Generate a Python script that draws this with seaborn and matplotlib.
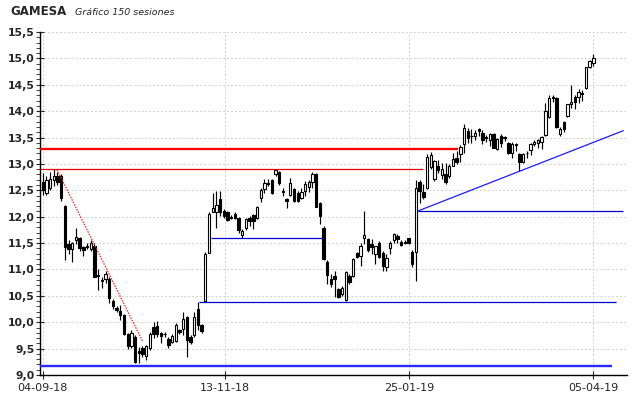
import numpy as np
import pandas as pd
import matplotlib
matplotlib.use('Agg')
import matplotlib.pyplot as plt
from matplotlib.ticker import MultipleLocator, FuncFormatter
import seaborn as sns

# 150 sessions
opens = [12.65, 12.45, 12.55, 12.70, 12.78, 12.78, 12.20, 11.48, 11.38, 11.55,
         11.60, 11.42, 11.45, 11.38, 11.45, 10.90, 10.80, 10.82, 10.82, 10.41,
         10.27, 10.22, 10.13, 9.78, 9.55, 9.72, 9.45, 9.52, 9.36, 9.51,
         9.91, 9.92, 9.80, 9.78, 9.69, 9.63, 9.64, 9.85, 9.88, 10.10,
         9.72, 9.75, 10.26, 9.94, 10.40, 11.32, 12.09, 12.08, 12.34, 12.11,
         12.08, 11.98, 12.05, 11.98, 11.65, 11.78, 11.98, 12.03, 11.98, 12.36,
         12.52, 12.64, 12.70, 12.80, 12.85, 12.49, 12.34, 12.42, 12.53, 12.45,
         12.36, 12.49, 12.57, 12.65, 12.80, 12.25, 11.79, 11.15, 10.82, 10.87,
         10.63, 10.54, 10.43, 10.88, 10.88, 11.31, 11.26, 11.59, 11.57, 11.48,
         11.29, 11.51, 11.31, 11.04, 11.40, 11.55, 11.64, 11.52, 11.52, 11.59,
         11.34, 11.34, 12.65, 12.47, 12.54, 12.95, 12.72, 12.96, 12.79, 12.81,
         12.77, 12.97, 13.12, 13.18, 13.37, 13.62, 13.53, 13.53, 13.66, 13.59,
         13.50, 13.46, 13.57, 13.28, 13.53, 13.50, 13.40, 13.21, 13.37, 13.18,
         13.04, 13.20, 13.26, 13.37, 13.40, 13.41, 13.55, 13.89, 14.24, 14.25,
         13.56, 13.79, 13.91, 14.13, 14.27, 14.27, 14.34, 14.44, 14.84, 14.92]
highs = [12.82, 12.78, 12.85, 12.90, 12.85, 12.80, 12.22, 11.55, 11.52, 11.78,
         11.62, 11.45, 11.50, 11.55, 11.50, 11.00, 10.85, 10.98, 10.85, 10.44,
         10.30, 10.32, 10.16, 9.80, 9.85, 9.75, 9.53, 9.55, 9.57, 9.82,
         10.00, 10.02, 9.82, 9.82, 9.72, 9.78, 9.98, 9.88, 10.19, 10.12,
         9.76, 10.19, 10.38, 9.96, 11.34, 12.08, 12.45, 12.48, 12.48, 12.15,
         12.10, 12.03, 12.08, 12.00, 11.76, 11.98, 12.01, 12.05, 12.21, 12.55,
         12.72, 12.72, 12.72, 12.91, 12.87, 12.55, 12.36, 12.74, 12.55, 12.49,
         12.55, 12.67, 12.70, 12.84, 12.83, 12.28, 11.82, 11.17, 10.91, 10.98,
         10.65, 10.68, 10.98, 10.92, 11.22, 11.34, 11.51, 12.11, 11.60, 11.57,
         11.45, 11.53, 11.35, 11.29, 11.54, 11.70, 11.67, 11.55, 11.55, 11.60,
         11.36, 12.69, 12.70, 12.62, 13.19, 13.22, 13.08, 13.07, 13.02, 13.02,
         12.99, 13.21, 13.24, 13.35, 13.75, 13.68, 13.66, 13.65, 13.68, 13.65,
         13.55, 13.59, 13.59, 13.50, 13.56, 13.53, 13.42, 13.41, 13.40, 13.21,
         13.20, 13.25, 13.40, 13.46, 13.48, 13.53, 14.15, 14.30, 14.30, 14.27,
         13.70, 13.82, 14.14, 14.50, 14.30, 14.42, 14.40, 14.84, 14.96, 15.09]
lows = [12.42, 12.42, 12.50, 12.58, 12.60, 12.30, 11.17, 11.30, 11.15, 11.48,
        11.35, 11.26, 11.38, 11.35, 10.85, 10.62, 10.65, 10.75, 10.37, 10.25,
        10.20, 10.04, 9.75, 9.50, 9.52, 9.22, 9.22, 9.35, 9.28, 9.48,
        9.70, 9.72, 9.60, 9.72, 9.52, 9.60, 9.62, 9.78, 9.75, 9.34,
        9.58, 9.72, 9.85, 9.80, 10.39, 11.31, 12.08, 11.79, 12.01, 11.98,
        11.92, 11.95, 11.95, 11.70, 11.60, 11.74, 11.83, 11.76, 11.96, 12.28,
        12.45, 12.58, 12.43, 12.77, 12.61, 12.40, 12.17, 12.39, 12.28, 12.28,
        12.33, 12.39, 12.47, 12.55, 12.18, 11.86, 11.18, 10.73, 10.66, 10.47,
        10.45, 10.50, 10.41, 10.72, 10.86, 11.21, 11.07, 11.48, 11.34, 11.29,
        11.10, 11.22, 10.98, 10.98, 11.29, 11.50, 11.51, 11.44, 11.49, 11.49,
        11.05, 10.79, 12.26, 12.33, 12.52, 12.90, 12.68, 12.83, 12.71, 12.62,
        12.74, 12.96, 12.99, 13.03, 13.21, 13.40, 13.40, 13.46, 13.53, 13.37,
        13.42, 13.34, 13.30, 13.26, 13.33, 13.44, 13.18, 13.12, 13.24, 12.87,
        13.02, 13.12, 13.16, 13.34, 13.30, 13.29, 13.53, 13.87, 14.18, 13.68,
        13.52, 13.60, 13.88, 14.06, 14.05, 14.15, 14.20, 14.42, 14.82, 14.85]
closes = [12.50, 12.70, 12.72, 12.78, 12.65, 12.35, 11.42, 11.38, 11.50, 11.62,
          11.40, 11.36, 11.42, 11.50, 10.86, 10.88, 10.78, 10.92, 10.45, 10.31,
          10.24, 10.13, 9.77, 9.55, 9.80, 9.25, 9.42, 9.40, 9.55, 9.77,
          9.78, 9.78, 9.74, 9.77, 9.56, 9.73, 9.94, 9.82, 10.07, 9.66,
          9.63, 10.10, 9.94, 9.83, 11.30, 12.05, 12.17, 12.23, 12.08, 12.01,
          11.94, 11.98, 11.98, 11.75, 11.73, 11.95, 11.92, 11.92, 12.19, 12.50,
          12.64, 12.62, 12.45, 12.89, 12.64, 12.47, 12.30, 12.64, 12.30, 12.30,
          12.47, 12.62, 12.65, 12.81, 12.19, 12.01, 11.20, 10.90, 10.73, 10.82,
          10.47, 10.65, 10.96, 10.76, 11.20, 11.23, 11.44, 11.66, 11.37, 11.42,
          11.44, 11.24, 11.07, 11.21, 11.51, 11.68, 11.57, 11.46, 11.51, 11.51,
          11.10, 12.55, 12.48, 12.37, 13.13, 13.17, 13.05, 12.89, 12.90, 12.65,
          12.96, 13.10, 13.03, 13.33, 13.68, 13.50, 13.52, 13.59, 13.62, 13.46,
          13.49, 13.57, 13.31, 13.48, 13.39, 13.49, 13.21, 13.38, 13.36, 13.04,
          13.18, 13.21, 13.37, 13.41, 13.46, 13.51, 14.00, 14.25, 14.26, 13.70,
          13.67, 13.67, 14.13, 14.18, 14.18, 14.37, 14.33, 14.84, 14.95, 15.01]

tick_pos = [0, 49.3, 99.1, 149]
tick_labels = ['04-09-18', '13-11-18', '25-01-19', '05-04-19']

# drawn support / resistance levels (price, first session, last session)
thick_prices = [13.29, 9.18]
thick_starts = [-0.7, -0.7]
thick_ends = [112.5, 154.0]
thick_colors = ['#ff0000', '#2a2aff']

thin_prices = [12.90, 10.39, 11.59, 12.11]
thin_starts = [-0.7, 42.2, 45.6, 101.6]
thin_ends = [103.0, 155.1, 75.6, 157.1]
thin_colors = ['#e00000', '#0000cc', '#0000cc', '#0000cc']

trend_x = [101.6, 157.1]
trend_y = [12.11, 13.63]
fall_x = [3.9, 27.1]
fall_y = [12.89, 9.63]


def main():
    sns.set_style('white')
    plt.rcParams['font.family'] = ['DejaVu Sans']

    df = pd.DataFrame({'open': opens, 'high': highs, 'low': lows, 'close': closes})
    df['idx'] = np.arange(len(df))
    df['up'] = df['close'] >= df['open']
    df['bottom'] = df[['open', 'close']].min(axis=1)
    df['height'] = (df['close'] - df['open']).abs().clip(lower=0.012)

    fig = plt.figure(figsize=(6.4, 3.98), dpi=100)
    ax = fig.add_axes([40 / 640, 23 / 398, 587 / 640, 343 / 398])

    # wicks and bodies
    ax.vlines(df['idx'], df['low'], df['high'], color='black', linewidth=0.85, zorder=2)
    ax.bar(df['idx'], df['height'], bottom=df['bottom'], width=0.64,
           color=np.where(df['up'], 'white', 'black'), edgecolor='black',
           linewidth=0.8, zorder=3)

    for p, s, e, c in zip(thick_prices, thick_starts, thick_ends, thick_colors):
        ax.hlines(p, s, e, color=c, linewidth=1.7, zorder=4)
    for p, s, e, c in zip(thin_prices, thin_starts, thin_ends, thin_colors):
        ax.hlines(p, s, e, color=c, linewidth=0.9, zorder=4)

    sns.lineplot(x=trend_x, y=trend_y, ax=ax, color='#1a1aff', linewidth=0.9, zorder=4)
    sns.lineplot(x=fall_x, y=fall_y, ax=ax, color='#ff2020', linewidth=0.9,
                 linestyle=(0, (1.2, 1.0)), zorder=4)

    ax.set_xlim(-0.73, 158.1)
    ax.set_ylim(9.0, 15.5)

    ax.yaxis.set_major_locator(MultipleLocator(0.5))
    ax.yaxis.set_minor_locator(MultipleLocator(0.1))
    ax.yaxis.set_major_formatter(FuncFormatter(lambda v, _: f'{v:.1f}'.replace('.', ',')))
    ax.set_xticks(tick_pos)
    ax.set_xticklabels(tick_labels)

    ax.tick_params(axis='y', which='major', direction='inout', length=6, width=0.8,
                   labelsize=7.8, pad=1, left=True)
    ax.tick_params(axis='y', which='minor', direction='out', length=3, width=0.6, left=True)
    ax.tick_params(axis='x', which='major', direction='inout', length=6, width=0.8,
                   labelsize=8, pad=3, bottom=True)
    for lab in ax.get_yticklabels():
        lab.set_fontweight('bold')

    ax.grid(True, which='major', color='#d2d2d2', linestyle=(0, (2, 2)), linewidth=0.7)
    ax.set_axisbelow(True)
    sns.despine(ax=ax)
    for side in ['left', 'bottom']:
        ax.spines[side].set_color('black')
        ax.spines[side].set_linewidth(1.0)
    ax.set_xlabel('')
    ax.set_ylabel('')

    fig.text(10 / 640, 1 - 15 / 398, 'GAMESA', fontsize=8.5, fontweight='bold',
             ha='left', va='baseline')
    fig.text(75 / 640, 1 - 15 / 398, 'Gráfico 150 sesiones', fontsize=6.8,
             style='italic', ha='left', va='baseline')

    fig.savefig('out.png', dpi=100)
    plt.close(fig)


if __name__ == '__main__':
    main()
